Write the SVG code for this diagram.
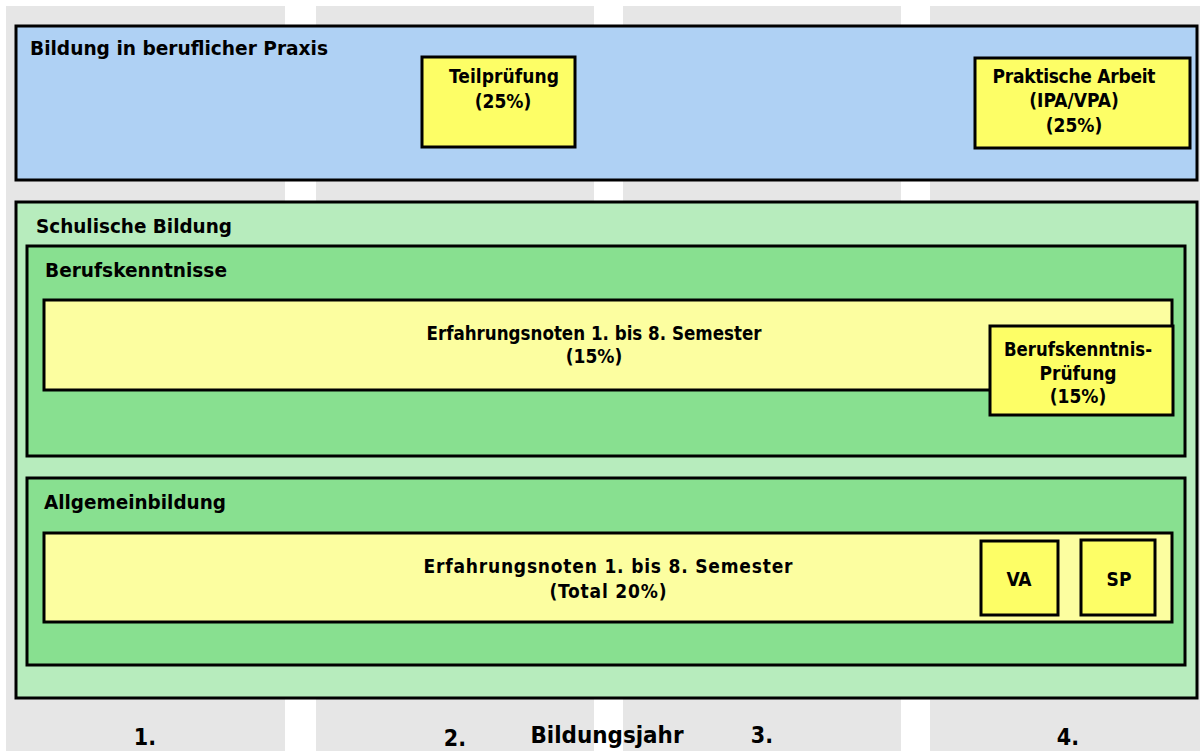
<svg xmlns="http://www.w3.org/2000/svg" width="1200" height="751" viewBox="0 0 1200 751">
<style>
.b{stroke:#000;stroke-width:3}
.t{font-family:"DejaVu Sans Condensed","DejaVu Sans",sans-serif;font-weight:bold;font-size:19px;fill:#000}
.h{font-size:19.5px}
.c{text-anchor:middle}
.y{font-size:23px}
</style>
<g id="columns" fill="#e6e6e6">
<rect x="6" y="6" width="279" height="745"/>
<rect x="316" y="6" width="278" height="745"/>
<rect x="623" y="6" width="278" height="745"/>
<rect x="930" y="6" width="270" height="745"/>
</g>
<g id="praxis">
<rect class="b" x="16" y="26" width="1181" height="154" fill="#afd1f4"/>
<text class="t h" x="30" y="55" textLength="298" lengthAdjust="spacingAndGlyphs">Bildung in beruflicher Praxis</text>
</g>
<g id="teilpruefung">
<rect class="b" x="422" y="57" width="153" height="90" fill="#fdfe66"/>
<text class="t c" x="504" y="83" textLength="110">Teilprüfung</text>
<text class="t c" x="503" y="108">(25%)</text>
</g>
<g id="praktische-arbeit">
<rect class="b" x="975" y="58" width="215" height="90" fill="#fdfe66"/>
<text class="t c" x="1074" y="83" textLength="163">Praktische Arbeit</text>
<text class="t c" x="1074" y="107">(IPA/VPA)</text>
<text class="t c" x="1074" y="132">(25%)</text>
</g>
<g id="schulische-bildung">
<rect class="b" x="16" y="202" width="1181" height="496" fill="#b7ecbd"/>
<text class="t h" x="36" y="233" textLength="196" lengthAdjust="spacingAndGlyphs">Schulische Bildung</text>
</g>
<g id="berufskenntnisse">
<rect class="b" x="27" y="246" width="1158" height="210" fill="#88e090"/>
<text class="t h" x="45" y="277" textLength="182" lengthAdjust="spacingAndGlyphs">Berufskenntnisse</text>
</g>
<g id="bk-erfahrungsnoten">
<rect class="b" x="44" y="300" width="1128" height="90" fill="#fcfea0"/>
<text class="t c" x="594" y="340" textLength="335" lengthAdjust="spacingAndGlyphs">Erfahrungsnoten 1. bis 8. Semester</text>
<text class="t c" x="594" y="363">(15%)</text>
</g>
<g id="bk-pruefung">
<rect class="b" x="990" y="326" width="183" height="89" fill="#fdfe66"/>
<text class="t c" x="1078" y="356" textLength="148" lengthAdjust="spacingAndGlyphs">Berufskenntnis-</text>
<text class="t c" x="1078" y="380">Prüfung</text>
<text class="t c" x="1078" y="403">(15%)</text>
</g>
<g id="allgemeinbildung">
<rect class="b" x="27" y="478" width="1158" height="187" fill="#88e090"/>
<text class="t h" x="44" y="509" textLength="182" lengthAdjust="spacingAndGlyphs">Allgemeinbildung</text>
</g>
<g id="ab-erfahrungsnoten">
<rect class="b" x="44" y="533" width="1128" height="89" fill="#fcfea0"/>
<text class="t c" x="608" y="573" textLength="369">Erfahrungsnoten 1. bis 8. Semester</text>
<text class="t c" x="608" y="598" textLength="117">(Total 20%)</text>
</g>
<g id="va">
<rect class="b" x="981" y="541" width="77" height="74" fill="#fdfe66"/>
<text class="t c" x="1019" y="586">VA</text>
</g>
<g id="sp">
<rect class="b" x="1081" y="540" width="74" height="75" fill="#fdfe66"/>
<text class="t c" x="1119" y="586">SP</text>
</g>
<g id="connectors"></g>
<g id="axis">
<text class="t c y" x="145" y="745">1.</text>
<text class="t c y" x="455" y="746">2.</text>
<text class="t c y" x="607" y="743" textLength="153" lengthAdjust="spacingAndGlyphs">Bildungsjahr</text>
<text class="t c y" x="762" y="743">3.</text>
<text class="t c y" x="1068" y="745">4.</text>
</g>
</svg>
